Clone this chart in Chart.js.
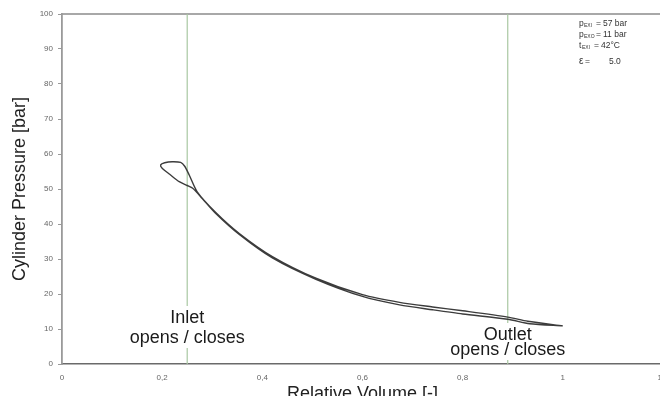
<!DOCTYPE html>
<html><head><meta charset="utf-8">
<script src="https://cdn.jsdelivr.net/npm/chart.js@4"></script>
<style>
html,body{margin:0;padding:0;overflow:hidden;background:#fff;width:660px;height:396px}
#wrap{position:absolute;left:0;top:0;width:663px;height:412px}
</style>
</head><body>
<div id="wrap"><canvas id="c"></canvas></div>
<script>
// ---- data ----
const volume = [1.0,0.93,0.89,0.8,0.74,0.674,0.6,0.507,0.42,0.354,0.307,0.27,0.254,0.245,0.237,0.22,0.205,0.197,0.2,0.215,0.234,0.25,0.261,0.28,0.307,0.354,0.42,0.507,0.6,0.674,0.74,0.8,0.89,0.934,1.0];
const pressure = [10.9,12.2,13.4,15.2,16.3,17.6,19.8,24.5,30.7,37.3,43.3,49.2,54.0,56.5,57.6,57.8,57.5,56.9,55.9,54.2,52.1,51.0,50.2,47.3,43.0,37.0,30.3,24.2,19.3,16.9,15.5,14.3,12.8,11.5,10.9];
const inletVolume = [0.25, 0.25];
const outletVolume = [0.89, 0.89];
const markerPressure = [0, 100];
const xTickLabels = ['0','0,2','0,4','0,6','0,8','1','1,2'];
const yTickLabels = ['0','10','20','30','40','50','60','70','80','90','100'];
const inletLabel = ['Inlet', 'opens / closes'];
const outletLabel = ['Outlet', 'opens / closes'];
const paramSymbols = ['p','p','t','ε'];
const paramSubs = ['EXI','EXO','EXI',''];
const paramValues = ['57 bar','11 bar','42°C','5.0'];
const xTitle = 'Relative Volume [-]';
const yTitle = 'Cylinder Pressure [bar]';

const toPts = (xs, ys) => xs.map((x, i) => ({x: x, y: ys[i]}));

const FONT = "'Liberation Sans', Arial, sans-serif";

const textPlugin = {
  id: 'texts',
  beforeDatasetDraw(chart, args) {
    if (args.index !== 2) return;
    const ctx = chart.ctx;
    const xs = chart.scales.x;
    const area = chart.chartArea;
    ctx.save();
    const drawLabel = (lines, vx, b1, b2) => {
      const cx = xs.getPixelForValue(vx);
      ctx.font = '18px ' + FONT;
      const w = Math.max(...lines.map(t => ctx.measureText(t).width));
      ctx.fillStyle = '#fff';
      ctx.fillRect(cx - w / 2 - 2, b1 - 17, w + 4, (b2 + 5) - (b1 - 17));
      ctx.fillStyle = '#1a1a1a';
      ctx.textAlign = 'center';
      ctx.textBaseline = 'alphabetic';
      ctx.fillText(lines[0], cx, b1);
      ctx.fillText(lines[1], cx, b2);
    };
    drawLabel(inletLabel, inletVolume[0], area.bottom - 41, area.bottom - 21);
    drawLabel(outletLabel, outletVolume[0], area.bottom - 24, area.bottom - 9);
    ctx.restore();
  },
  afterDatasetsDraw(chart) {
    const ctx = chart.ctx;
    const area = chart.chartArea;
    ctx.save();
    const rows = [area.top + 12, area.top + 23, area.top + 34, area.top + 50];
    ctx.textAlign = 'left';
    ctx.textBaseline = 'alphabetic';
    ctx.fillStyle = '#333';
    for (let i = 0; i < paramSymbols.length; i++) {
      const y = rows[i];
      const x0 = 579;
      if (paramSubs[i]) {
        ctx.font = '8.5px ' + FONT;
        ctx.fillText(paramSymbols[i], x0, y);
        const sw = paramSymbols[i] === 't' ? 3 : 5;
        ctx.font = '5px ' + FONT;
        ctx.fillText(paramSubs[i], x0 + sw, y + 1);
        ctx.font = '8.5px ' + FONT;
        ctx.fillText('=', x0 + sw + 12, y);
        ctx.fillText(paramValues[i], x0 + sw + 19, y);
      } else {
        ctx.font = '10px ' + FONT;
        ctx.fillText(paramSymbols[i], x0, y);
        ctx.font = '8.5px ' + FONT;
        ctx.fillText('=', x0 + 6, y);
        ctx.fillText(paramValues[i], x0 + 30, y);
      }
    }
    ctx.restore();
  }
};

new Chart(document.getElementById('c'), {
  type: 'scatter',
  data: {
    datasets: [
      {
        data: toPts(inletVolume, markerPressure),
        showLine: true, borderColor: '#a9c8a2', borderWidth: 1.2,
        pointRadius: 0, order: 1
      },
      {
        data: toPts(outletVolume, markerPressure),
        showLine: true, borderColor: '#a9c8a2', borderWidth: 1.2,
        pointRadius: 0, order: 1
      },
      {
        data: toPts(volume, pressure),
        showLine: true, borderColor: '#3c3c3c', borderWidth: 1.4,
        tension: 0.25, pointRadius: 0, order: 0
      }
    ]
  },
  options: {
    responsive: true,
    maintainAspectRatio: false,
    devicePixelRatio: 1,
    animation: false,
    layout: { padding: { top: 14, right: 0, left: 0, bottom: 0 } },
    plugins: { legend: { display: false }, tooltip: { enabled: false } },
    scales: {
      x: {
        type: 'linear', position: 'bottom', min: 0, max: 1.2,
        ticks: {
          stepSize: 0.2, padding: 9, color: '#666',
          font: { size: 8, family: FONT },
          maxRotation: 0, autoSkip: false,
          callback: (v, i) => xTickLabels[i]
        },
        grid: { display: true, drawOnChartArea: false, drawTicks: false },
        border: { display: true, color: '#6a6a6a', width: 1.5 },
        title: {
          display: true, text: xTitle, color: '#222',
          font: { size: 18, family: FONT },
          padding: { top: 0, bottom: 7 }
        },
        afterFit(s) { s.height = 48; s.paddingLeft = 0; s.paddingRight = 0; }
      },
      xt: {
        type: 'linear', position: 'top', min: 0, max: 1.2,
        ticks: { display: false },
        grid: { display: false, drawTicks: false },
        border: { display: true, color: '#a8a8a8', width: 2 },
        afterFit(s) { s.height = 0; s.paddingLeft = 0; s.paddingRight = 0; }
      },
      y: {
        type: 'linear', min: 0, max: 100,
        ticks: {
          stepSize: 10, padding: 5, color: '#666',
          font: { size: 8, family: FONT },
          callback: (v, i) => yTickLabels[i]
        },
        grid: { display: true, drawOnChartArea: false, drawTicks: true, tickLength: 4, color: '#999' },
        border: { display: true, color: '#9a9a9a', width: 1.8 },
        title: {
          display: true, text: yTitle, color: '#222',
          font: { size: 18, family: FONT },
          padding: { top: 9, bottom: 0 }
        },
        afterFit(s) { s.width = 62; }
      }
    }
  },
  plugins: [textPlugin]
});
</script>
</body></html>
